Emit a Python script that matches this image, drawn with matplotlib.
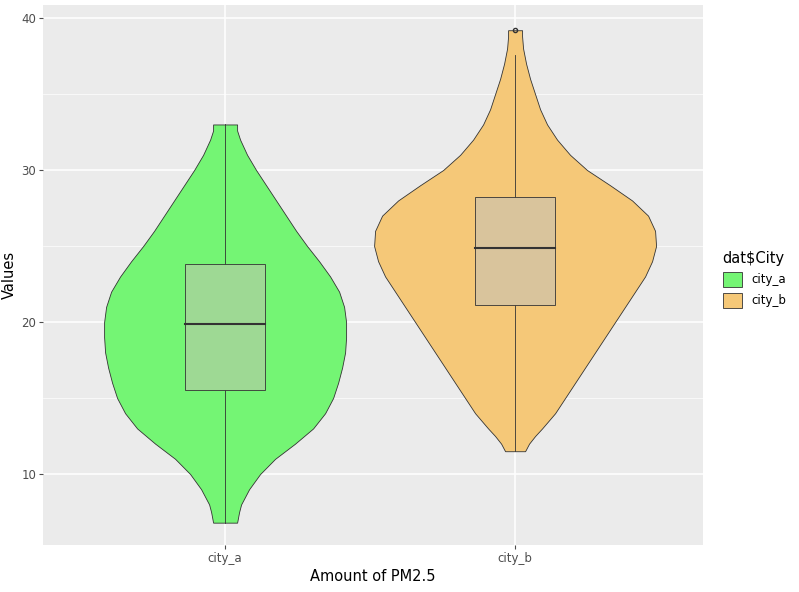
import matplotlib
matplotlib.use("Agg")
import matplotlib.pyplot as plt
from matplotlib.patches import Patch, Rectangle

cities = ["city_a", "city_b"]
viol_y_a = [6.8, 7.5, 8, 9, 10, 11, 12, 13, 14, 15, 16, 17, 18, 19, 20, 21, 22, 23, 24,
            25, 26, 27, 28, 29, 30, 31, 32, 32.6, 33]
viol_w_a = [12, 14, 16, 24, 35, 50, 70, 88, 100, 108, 113, 117, 120, 121, 121, 119, 114,
            105, 94, 82, 71, 61, 51, 41, 31, 22, 15, 12, 12]
viol_y_b = [11.5, 12, 12.5, 13, 14, 15, 16, 17, 18, 19, 20, 21, 22, 23, 24, 25, 26, 27,
            28, 29, 30, 31, 32, 33, 34, 35, 36, 37, 38, 38.8, 39.2]
viol_w_b = [10, 14, 20, 27, 40, 50, 60, 70, 80, 90, 100, 110, 120, 130, 137, 141, 140,
            133, 117, 95, 72, 55, 42, 32, 25, 20, 15, 11, 8, 7, 7]
q1 = [15.5, 21.1]
med = [19.9, 24.9]
q3 = [23.8, 28.2]
wlo = [6.8, 11.5]
whi = [33.0, 37.6]
outliers = [[], [39.2]]
vcol = ["#74F574", "#F5C878"]
bcol = ["#9ED994", "#D9C49C"]

fig = plt.figure(figsize=(7.99, 5.92), dpi=100)
ax = fig.add_axes([43/799, 47/592, 660/799, 540/592])
ax.set_facecolor("#EBEBEB")
scale = 290.0
for i, (ys, ws) in enumerate([(viol_y_a, viol_w_a), (viol_y_b, viol_w_b)]):
    x = i + 1
    w = [v / scale for v in ws]
    ax.fill_betweenx(ys, [x - v for v in w], [x + v for v in w], facecolor=vcol[i],
                     edgecolor="#333333", linewidth=0.6, zorder=2)
    ax.plot([x, x], [wlo[i], q1[i]], color="#333333", lw=0.6, zorder=3)
    ax.plot([x, x], [q3[i], whi[i]], color="#333333", lw=0.6, zorder=3)
    bw = 0.138
    ax.add_patch(Rectangle((x - bw, q1[i]), 2*bw, q3[i]-q1[i], facecolor=bcol[i],
                           edgecolor="#333333", lw=0.6, zorder=3))
    ax.plot([x-bw, x+bw], [med[i], med[i]], color="#333333", lw=1.5, zorder=4)
    for o in outliers[i]:
        ax.plot(x, o, 'o', ms=3, mfc="none", mec="#333333", zorder=4)

ax.set_xlim(0.372, 2.648)
ax.set_ylim(5.33, 40.86)
ax.set_xticks([1, 2], cities)
ax.set_yticks([10, 20, 30, 40])
ax.set_yticks([15, 25, 35], minor=True)
ax.grid(True, which="major", color="white", lw=1.1, zorder=0)
ax.grid(True, which="minor", axis="y", color="white", lw=0.5, zorder=0)
ax.set_axisbelow(True)
for s in ax.spines.values():
    s.set_visible(False)
ax.tick_params(colors="#4D4D4D", labelsize=8.5, length=3, pad=2)
ax.tick_params(which="minor", length=0)
ax.set_xlabel("Amount of PM2.5", fontsize=10.5, labelpad=3)
ax.set_ylabel("Values", fontsize=10.5, labelpad=3)
handles = [Patch(facecolor=vcol[i], edgecolor="#333333", lw=0.6, label=cities[i]) for i in range(2)]
fig.legend(handles=handles, title="dat$City", loc="upper left", bbox_to_anchor=(712/799, 1-240/592),
           frameon=False, fontsize=8.5, title_fontsize=10.5, handlelength=1.6, handleheight=1.6,
           alignment="left")
fig.savefig("out.png", dpi=100)
